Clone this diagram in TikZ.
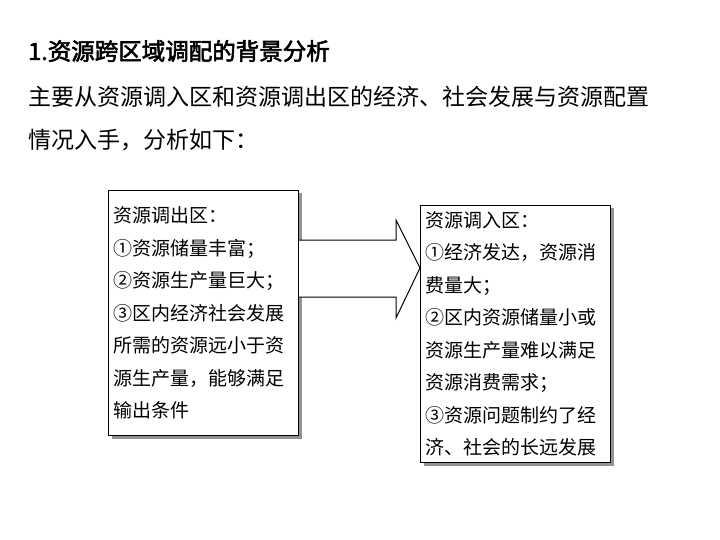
\documentclass[tikz,border=0pt]{standalone}
\usepackage{fontspec}
\newfontfamily\cjk[AutoFakeBold=2.5]{Noto Sans CJK SC}
\usetikzlibrary{positioning,shadows}
\tikzset{
  infobox/.style={draw=black,line width=1pt,fill=white,inner sep=5pt,
    text width=180pt,align=left,font=\cjk\fontsize{19}{32.5}\selectfont,
    drop shadow={shadow xshift=3pt,shadow yshift=-3pt,fill=gray!85,opacity=1}},
  bodyline/.style={anchor=west,inner sep=0pt,font=\cjk\fontsize{23}{26}\selectfont}
}
\begin{document}
\begin{tikzpicture}[x=1pt,y=-1pt]
  \useasboundingbox (0,0) rectangle (720,540);
  % heading and intro text
  \node[bodyline,font=\cjk\bfseries\fontsize{23.5}{26}\selectfont] (title) at (28,51) {1.资源跨区域调配的背景分析};
  \node[bodyline] (intro1) at (28,97) {主要从资源调入区和资源调出区的经济、社会发展与资源配置};
  \node[bodyline] (intro2) at (28,140) {情况入手，分析如下：};
  % the two boxes
  \node[infobox,anchor=north west,minimum height=245pt] (outbox) at (108,190)
    {资源调出区：\\①资源储量丰富；\\②资源生产量巨大；\\③区内经济社会发展\\所需的资源远小于资\\源生产量，能够满足\\输出条件};
  \node[infobox,anchor=north west,minimum height=257pt] (inbox) at (420,205)
    {资源调入区：\\①经济发达，资源消\\费量大；\\②区内资源储量小或\\资源生产量难以满足\\资源消费需求；\\③资源问题制约了经\\济、社会的长远发展};
  % open block arrow between them
  \draw[line width=1pt,fill=white] (outbox.east |- 0,240) -- (396,240) -- (396,220)
    -- (420,268) -- (396,318) -- (396,297) -- (outbox.east |- 0,297);
\end{tikzpicture}
\end{document}
